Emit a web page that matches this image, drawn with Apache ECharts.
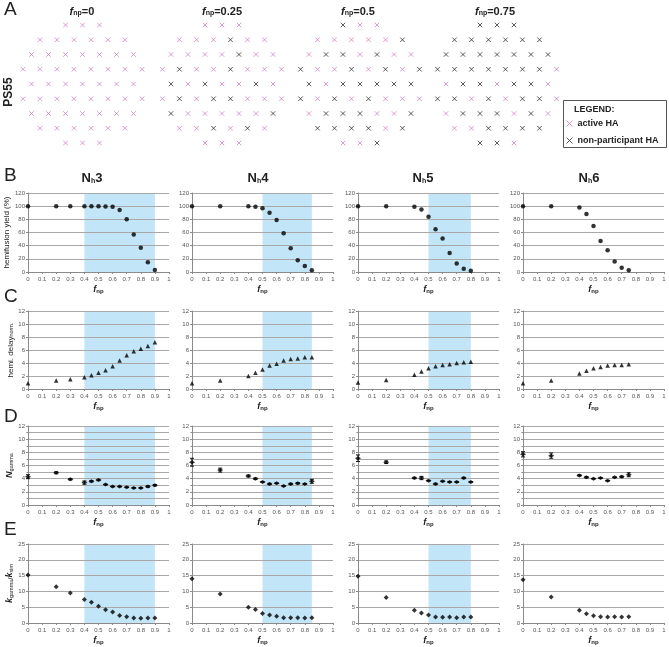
<!DOCTYPE html>
<html><head><meta charset="utf-8">
<script src="https://cdn.jsdelivr.net/npm/echarts@6/dist/echarts.min.js"></script>
<style>html,body{margin:0;padding:0;background:#fff}#c{width:669px;height:647px}</style>
</head><body><div id="c"></div>
<script>
// ---------- Panel A data (lattice of 55 HA, 'a' = active, 'n' = non-participant) ----------
const latticeLabels = ['0', '0.25', '0.5', '0.75'];
const pattern0   = ['aaa','aaaaaa','aaaaaaa','aaaaaaaa','aaaaaaa','aaaaaaaa','aaaaaaa','aaaaaa','aaa'];
const pattern025 = ['aaa','aaanaa','aaaanaa','anaanaaa','nanaana','anannaaa','naaaaan','aanana','aaa'];
const pattern05  = ['naa','aaaaan','annanaa','naananan','nannnnn','nananaaa','annnaan','nnnnan','aan'];
const pattern075 = ['nnn','nnnnnn','nnnnnnn','nnnnnnna','annanna','nnananna','annnana','aannnn','nna'];
const legendNames = ['active HA', 'non-participant HA'];

// ---------- Panels B-E data ----------
const columnTitles = ['3', '4', '5', '6'];
const xN3 = [0,0.2,0.3,0.4,0.45,0.5,0.55,0.6,0.65,0.7,0.75,0.8,0.85,0.9];
const xN4 = [0,0.2,0.4,0.45,0.5,0.55,0.6,0.65,0.7,0.75,0.8,0.85];
const xN5 = [0,0.2,0.4,0.45,0.5,0.55,0.6,0.65,0.7,0.75,0.8];
const xN6 = [0,0.2,0.4,0.45,0.5,0.55,0.6,0.65,0.7,0.75];
const shadeRanges = [[0.4,0.9],[0.5,0.85],[0.5,0.8],null];

const yieldN3 = [100,100,100,100,100,100,99.5,99,94,80,57,37,15,3];
const yieldN4 = [100,100,100,99,97,90,79,59,36,18,9,2.5];
const yieldN5 = [100,100,99,95,84,65,51,29,13,5,2];
const yieldN6 = [100,100,98,88,70,47,33,16,6.5,2.5];

const delayN3 = [0.9,1.3,1.5,1.8,2.1,2.5,2.9,3.5,4.4,5.2,5.8,6.2,6.6,7.2];
const delayN4 = [0.9,1.3,2.0,2.5,3.0,3.6,3.9,4.4,4.6,4.7,4.9,4.9];
const delayN5 = [1.0,1.4,2.2,2.7,3.2,3.5,3.7,3.8,4.0,4.1,4.2];
const delayN6 = [0.9,1.3,2.4,2.8,3.2,3.4,3.6,3.7,3.7,3.8];

const ngammaN3 = [4.3,4.9,3.9,3.4,3.6,3.8,3.1,2.8,2.8,2.7,2.6,2.6,2.8,3.0];
const ngammaN4 = [6.5,5.3,4.4,4.0,3.5,3.2,3.3,2.9,3.2,3.3,3.2,3.6];
const ngammaN5 = [7.1,6.5,4.1,4.1,3.7,3.2,3.6,3.5,3.5,4.1,3.5];
const ngammaN6 = [7.7,7.5,4.5,4.2,4.0,4.1,3.7,4.2,4.3,4.6];
const ngammaErrN3 = [0.3,0.15,0.1,0.25,0.1,0.1,0.05,0.05,0.05,0.05,0.05,0.05,0.1,0.1];
const ngammaErrN4 = [0.6,0.3,0.15,0.1,0.05,0.1,0.05,0.05,0.1,0.1,0.05,0.3];
const ngammaErrN5 = [0.5,0.2,0.1,0.25,0.05,0.1,0.05,0.05,0.05,0.1,0.05];
const ngammaErrN6 = [0.4,0.4,0.1,0.1,0.05,0.05,0.05,0.05,0.1,0.3];

const kratioN3 = [15.2,11.5,9.5,7.4,6.6,5.3,4.2,3.5,2.4,2.0,1.6,1.5,1.6,1.6];
const kratioN4 = [14.0,9.2,5.0,4.3,3.0,2.5,2.1,1.7,1.7,1.7,1.6,1.7];
const kratioN5 = [14.8,8.1,4.0,3.2,2.5,1.9,1.8,1.9,1.7,1.9,1.9];
const kratioN6 = [13.7,8.2,4.0,2.9,2.3,2.0,1.9,2.0,1.9,2.0];

// ---------- build ----------
const FONT = '"Liberation Sans", Arial, Helvetica, sans-serif';
const PINK = '#cf84c2';
const DARK = '#333333';
const CROSS = 'path://M0,0L10,10M10,0L0,10';
const SHADE = '#c2e5f7';

const xCols = [xN3, xN4, xN5, xN6];
const rows = [
  {letter:'B', ys:[yieldN3,yieldN4,yieldN5,yieldN6], max:120, interval:20, symbol:'circle', size:4.5,
   name:'{t|hemifusion yield (%)}', top:193, h:79},
  {letter:'C', ys:[delayN3,delayN4,delayN5,delayN6], max:12, interval:2, symbol:'triangle', size:4.5,
   name:'{t|hemi. delay}{s|norm.}', top:311, h:78},
  {letter:'D', ys:[ngammaN3,ngammaN4,ngammaN5,ngammaN6], errs:[ngammaErrN3,ngammaErrN4,ngammaErrN5,ngammaErrN6],
   max:12, interval:2, minor:true, symbol:'diamond', size:[6,4],
   name:'{i|N}{s|gamma}', top:426, h:79},
  {letter:'E', ys:[kratioN3,kratioN4,kratioN5,kratioN6], max:25, interval:5, symbol:'diamond', size:5,
   name:'{i|k}{s|gamma}{t|/}{i|k}{s|sim}', top:544, h:79}
];
const colLeft = [28, 192, 358, 523];
const plotW = 141;

const grids = [], xAxes = [], yAxes = [], series = [], graphics = [];

// Panel A lattices
const patterns = [pattern0, pattern025, pattern05, pattern075];
const aCenters = [82.5, 222, 360, 497];
const colSp = 17, rowSp = 14.75;
patterns.forEach((pat, p) => {
  const gi = grids.length;
  grids.push({left: aCenters[p] - 4*colSp, top: 25 - rowSp/2, width: 8*colSp, height: 9*rowSp,
              containLabel:false, outerBoundsMode:'none'});
  xAxes.push({gridIndex: gi, type:'value', min:-4, max:4, show:false});
  yAxes.push({gridIndex: gi, type:'value', min:-0.5, max:8.5, inverse:true, show:false});
  const act = [], non = [];
  pat.forEach((row, r) => {
    const n = row.length;
    for (let i = 0; i < n; i++) {
      const pt = [i - (n-1)/2, r];
      (row[i] === 'a' ? act : non).push(pt);
    }
  });
  [[legendNames[0], act, PINK], [legendNames[1], non, DARK]].forEach(([nm, d, col]) => {
    series.push({type:'scatter', name:nm, xAxisIndex:gi, yAxisIndex:gi, data:d, symbol:CROSS, symbolSize:4.5,
      itemStyle:{color:'rgba(0,0,0,0)', borderColor:col, borderWidth:1}, silent:true, z:10});
  });
});

const tickLabel = {fontSize:6, color:'#555', fontFamily:FONT};
const richName = {
  t:{fontSize:8, color:'#222', fontFamily:FONT, lineHeight:10, verticalAlign:'bottom'},
  i:{fontSize:9, color:'#222', fontFamily:FONT, fontStyle:'italic', fontWeight:'bold', lineHeight:10, verticalAlign:'bottom'},
  s:{fontSize:5.5, color:'#222', fontFamily:FONT, lineHeight:7, verticalAlign:'bottom'}
};
const xRich = {
  f:{fontSize:9, fontStyle:'italic', fontWeight:'bold', color:'#222', fontFamily:FONT, lineHeight:10, verticalAlign:'bottom'},
  s:{fontSize:6, fontWeight:'bold', color:'#222', fontFamily:FONT, lineHeight:7, verticalAlign:'bottom'}
};

rows.forEach((row) => {
  for (let c = 0; c < 4; c++) {
    const gi = grids.length;
    grids.push({left: colLeft[c], top: row.top, width: plotW, height: row.h, containLabel:false, outerBoundsMode:'none'});
    xAxes.push({gridIndex:gi, type:'value', min:0, max:1, interval:0.1, z:5,
      axisLine:{show:true, onZero:false, lineStyle:{color:'#8a8a8a', width:1}},
      axisTick:{show:true, length:2, lineStyle:{color:'#8a8a8a'}},
      splitLine:{show:false},
      axisLabel:Object.assign({margin:4, showMinLabel:true, showMaxLabel:true,
        formatter:(v)=>String(Math.round(v*10)/10)}, tickLabel),
      name:'{f|f}{s|np}', nameLocation:'middle', nameGap:12,
      nameTextStyle:{rich:xRich}
    });
    const ya = {gridIndex:gi, type:'value', min:0, max:row.max, interval:row.interval, z:5,
      axisLine:{show:true, lineStyle:{color:'#8a8a8a', width:1}},
      axisTick:{show:true, length:2, lineStyle:{color:'#8a8a8a'}},
      splitLine:{show:true, lineStyle:{color:'#a8a8a8', width:1}},
      axisLabel:Object.assign({margin:3, showMinLabel:true, showMaxLabel:true}, tickLabel)
    };
    if (row.minor) {
      ya.minorTick = {show:true, splitNumber:2, length:1.5, lineStyle:{color:'#8a8a8a'}};
      ya.minorSplitLine = {show:true, lineStyle:{color:'#a8a8a8', width:1}};
    }
    if (c === 0) {
      ya.name = row.name; ya.nameLocation = 'middle'; ya.nameRotate = 90; ya.nameGap = 13;
      ya.nameTextStyle = {rich: richName};
    }
    yAxes.push(ya);

    const xs = xCols[c], ys = row.ys[c];
    if (shadeRanges[c]) {
      series.push({type:'line', xAxisIndex:gi, yAxisIndex:gi, data:[[shadeRanges[c][0], 0]], symbol:'none',
        lineStyle:{width:0}, silent:true, z:1,
        markArea:{silent:true, itemStyle:{color:SHADE, opacity:1},
          data:[[{xAxis:shadeRanges[c][0], yAxis:0}, {xAxis:shadeRanges[c][1], yAxis:row.max}]]}});
    }
    if (row.errs) {
      const es = row.errs[c];
      series.push({type:'custom', xAxisIndex:gi, yAxisIndex:gi, silent:true, z:9,
        data: xs.map((x,i)=>[x, ys[i]-es[i], ys[i]+es[i]]),
        encode:{x:0, y:[1,2]},
        renderItem:(params, api) => {
          const p0 = api.coord([api.value(0), api.value(1)]);
          const p1 = api.coord([api.value(0), api.value(2)]);
          const st = {stroke:'#111', lineWidth:1};
          return {type:'group', children:[
            {type:'line', shape:{x1:p0[0], y1:p0[1], x2:p1[0], y2:p1[1]}, style:st},
            {type:'line', shape:{x1:p0[0]-2, y1:p0[1], x2:p0[0]+2, y2:p0[1]}, style:st},
            {type:'line', shape:{x1:p1[0]-2, y1:p1[1], x2:p1[0]+2, y2:p1[1]}, style:st}
          ]};
        }});
    }
    series.push({type:'scatter', xAxisIndex:gi, yAxisIndex:gi, data: xs.map((x,i)=>[x, ys[i]]),
      symbol:row.symbol, symbolSize:row.size, itemStyle:{color:'#000'}, silent:true, z:10});
  }
});

// Text elements
const letterStyle = (t) => ({text:t, fontSize:19, fontFamily:FONT, fill:'#222', verticalAlign:'middle', align:'left'});
[['A',10],['B',176],['C',297],['D',417],['E',530]].forEach(([t,y]) => {
  graphics.push({type:'text', x:4, y:y, style:letterStyle(t)});
});
const aTitleX = [82, 222, 358, 495];
latticeLabels.forEach((lab, p) => {
  graphics.push({type:'text', x:aTitleX[p], y:11, style:{
    text:'{f|f}{s|np}{b|=' + lab + '}', align:'center', verticalAlign:'middle',
    rich:{
      f:{fontSize:11, fontStyle:'italic', fontWeight:'bold', fill:'#222', fontFamily:FONT, lineHeight:12, verticalAlign:'bottom'},
      s:{fontSize:7, fontWeight:'bold', fill:'#222', fontFamily:FONT, lineHeight:8, verticalAlign:'bottom'},
      b:{fontSize:11, fontWeight:'bold', fill:'#222', fontFamily:FONT, lineHeight:12, verticalAlign:'bottom'}
    }}});
});
graphics.push({type:'text', x:9, y:92, rotation:Math.PI/2, style:{text:'PS55', fontSize:12, fontWeight:'bold',
  fontFamily:FONT, fill:'#222', align:'center', verticalAlign:'middle'}});
const colTitleX = [92, 258, 423, 589];
columnTitles.forEach((t, c) => {
  graphics.push({type:'text', x:colTitleX[c], y:178, style:{
    text:'{n|N}{s|h}{n|' + t + '}', align:'center', verticalAlign:'middle',
    rich:{
      n:{fontSize:13, fontWeight:'bold', fill:'#222', fontFamily:FONT, lineHeight:14, verticalAlign:'bottom'},
      s:{fontSize:7, fontWeight:'bold', fill:'#222', fontFamily:FONT, lineHeight:8, verticalAlign:'bottom'}
    }}});
});
graphics.push({type:'rect', shape:{x:563.5, y:100.5, width:103, height:47}, style:{fill:'#fff', stroke:'#555', lineWidth:1}, z:-1});
graphics.push({type:'text', x:574, y:110, style:{text:'LEGEND:', fontSize:9, fontWeight:'bold', fontFamily:FONT,
  fill:'#222', verticalAlign:'middle'}});

const option = {
  animation:false,
  backgroundColor:'#fff',
  grid:grids, xAxis:xAxes, yAxis:yAxes, series:series,
  legend:{left:566, top:119, orient:'vertical', itemWidth:6, itemHeight:6, itemGap:8, icon:CROSS,
    selectedMode:false, padding:0,
    data:[
      {name:legendNames[0], itemStyle:{color:'rgba(0,0,0,0)', borderColor:PINK, borderWidth:1}},
      {name:legendNames[1], itemStyle:{color:'rgba(0,0,0,0)', borderColor:DARK, borderWidth:1}}
    ],
    textStyle:{fontSize:9, fontWeight:'bold', color:'#222', fontFamily:FONT}},
  graphic:{elements:graphics}
};
const chart = echarts.init(document.getElementById('c'));
chart.setOption(option);
</script></body></html>
